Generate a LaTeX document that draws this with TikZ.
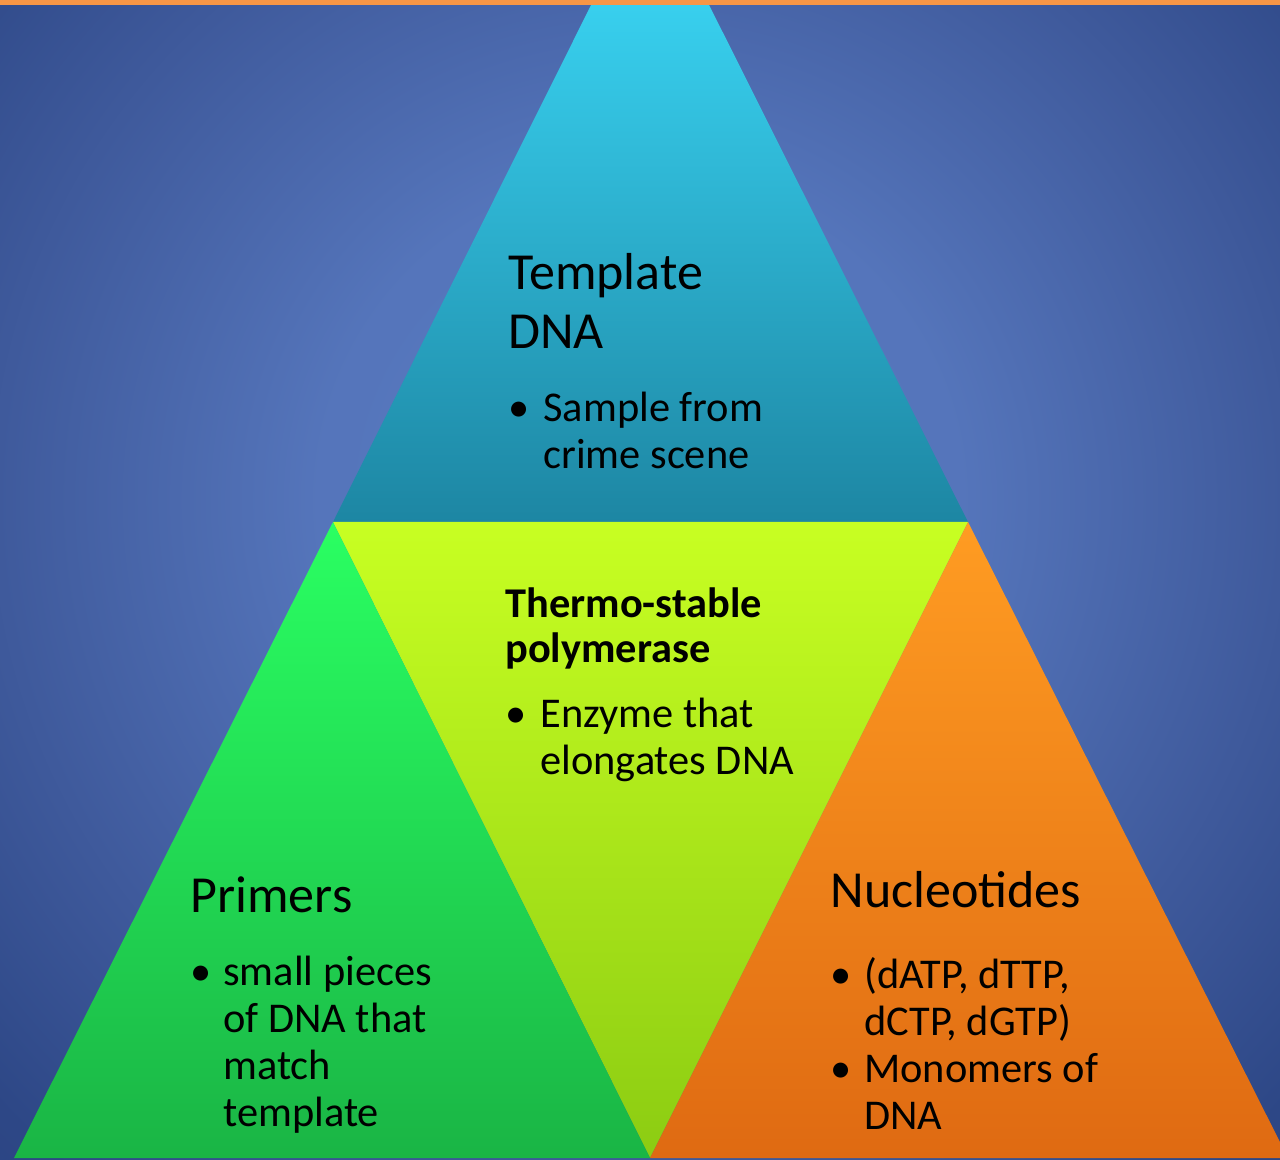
\documentclass[tikz,border=0pt]{standalone}
\usepackage{fontspec}
\setmainfont{Carlito}
\definecolor{bgouter}{HTML}{2B4482}
\definecolor{accentorange}{HTML}{F79646}
\definecolor{templatetop}{HTML}{3EE0FF}
\definecolor{templatebot}{HTML}{1D86A3}
\definecolor{enzymetop}{HTML}{C8FF22}
\definecolor{enzymebot}{HTML}{8CCC12}
\definecolor{primertop}{HTML}{2AFF62}
\definecolor{primerbot}{HTML}{1AB545}
\definecolor{nucltop}{HTML}{FF9C22}
\definecolor{nuclbot}{HTML}{DF6A12}
\pgfdeclareradialshading{slidebg}{\pgfpoint{0bp}{0bp}}{%
  rgb(0bp)=(0.349,0.475,0.753);
  rgb(160bp)=(0.333,0.459,0.733);
  rgb(320bp)=(0.247,0.353,0.612);
  rgb(440bp)=(0.176,0.278,0.525);
  rgb(500bp)=(0.169,0.267,0.510)}

\begin{document}
\begin{tikzpicture}[x=0.5pt, y=-0.5pt,
    head/.style={inner sep=0pt, anchor=base west, font=\fontsize{26}{29.5}\selectfont},
    bul/.style={inner sep=0pt, anchor=base west, font=\fontsize{21.2}{23.5}\selectfont}]
    % Background
    \useasboundingbox (0,0) rectangle (1280,1160);
    \clip (0,0) rectangle (1280,1160);
    \fill[bgouter] (0,0) rectangle (1280,1160);
    \node[inner sep=0pt] (bg) at (640,500) {\pgfuseshading{slidebg}};

    % Triangle corners
    \coordinate (apex) at (650,-113);
    \coordinate (tl) at (333,522);
    \coordinate (tr) at (968,522);
    \coordinate (bm) at (650,1158);
    \coordinate (bl) at (14,1158);
    \coordinate (br) at (1288,1158);

    % Four triangles
    \shade[top color=templatetop, bottom color=templatebot] (apex) -- (tr) -- (tl) -- cycle;
    \shade[top color=enzymetop, bottom color=enzymebot] (tl) -- (tr) -- (bm) -- cycle;
    \shade[top color=primertop, bottom color=primerbot] (tl) -- (bm) -- (bl) -- cycle;
    \shade[top color=nucltop, bottom color=nuclbot] (tr) -- (br) -- (bm) -- cycle;

    % Top accent line
    \fill[accentorange] (0,0) rectangle (1280,5);

    % Template DNA
    \node[head] (templatehead) at (508,290)
        {\begin{tabular}[t]{@{}l@{}}Template\\DNA\end{tabular}};
    \node[bul] (templatebul) at (508,422)
        {\begin{tabular}[t]{@{}l@{}l@{}}\makebox[17.5pt][l]{\textbullet}&Sample from\\&crime scene\end{tabular}};

    % Thermo-stable polymerase
    \node[head, font=\fontsize{21.2}{23}\selectfont\bfseries] (enzymehead) at (505,617)
        {\begin{tabular}[t]{@{}l@{}}Thermo-stable\\polymerase\end{tabular}};
    \node[bul] (enzymebul) at (505,727)
        {\begin{tabular}[t]{@{}l@{}l@{}}\makebox[17.5pt][l]{\textbullet}&Enzyme that\\&elongates DNA\end{tabular}};

    % Primers
    \node[head] (primerhead) at (190,912) {Primers};
    \node[bul] (primerbul) at (190,985)
        {\begin{tabular}[t]{@{}l@{}l@{}}\makebox[16.5pt][l]{\textbullet}&small pieces\\&of DNA that\\&match\\&template\end{tabular}};

    % Nucleotides
    \node[head] (nuclhead) at (830,907) {Nucleotides};
    \node[bul] (nuclbul) at (830,988)
        {\begin{tabular}[t]{@{}l@{}l@{}}\makebox[17pt][l]{\textbullet}&(dATP, dTTP,\\&dCTP, dGTP)\\\textbullet&Monomers of\\&DNA\end{tabular}};
\end{tikzpicture}
\end{document}
